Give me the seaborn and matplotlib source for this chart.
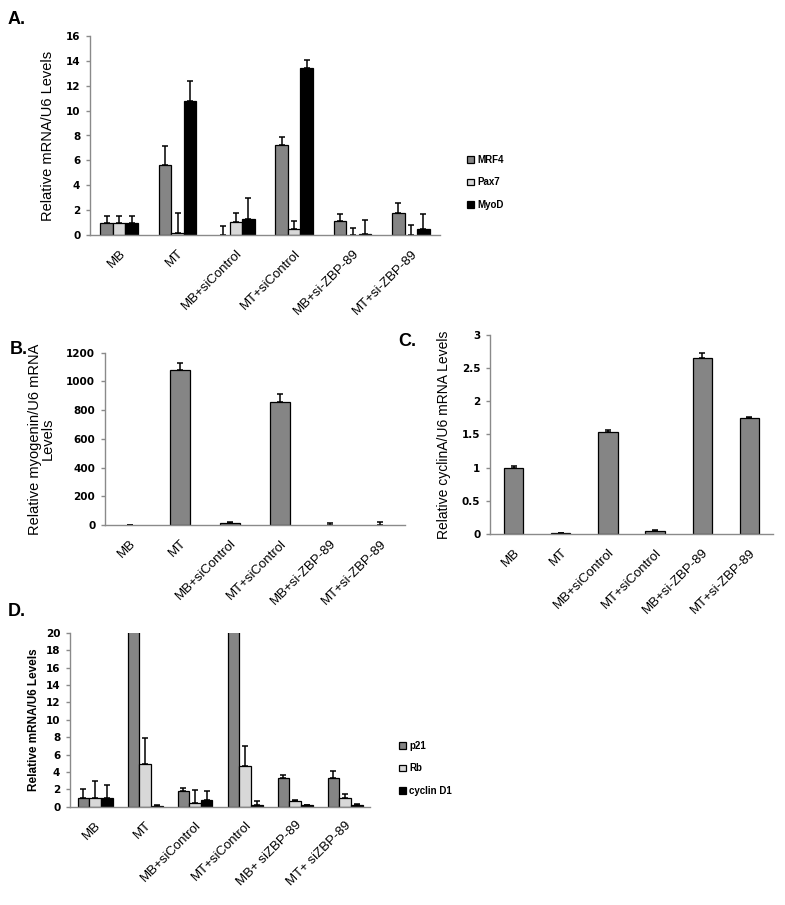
import numpy as np
import pandas as pd
import matplotlib
matplotlib.use("Agg")
import matplotlib.pyplot as plt
import seaborn as sns

# ---------------- data ----------------
cats_a = ["MB", "MT", "MB+siControl", "MT+siControl", "MB+si-ZBP-89", "MT+si-ZBP-89"]
series_a = ["MRF4", "Pax7", "MyoD"]
mrf4 = [1.0, 5.6, 0.0, 7.2, 1.15, 1.75]
mrf4_err = [0.5, 1.55, 0.7, 0.7, 0.5, 0.8]
pax7 = [1.0, 0.15, 1.05, 0.45, 0.0, 0.0]
pax7_err = [0.5, 1.6, 0.7, 0.7, 0.55, 0.8]
myod = [1.0, 10.8, 1.3, 13.4, 0.1, 0.45]
myod_err = [0.5, 1.6, 1.7, 0.7, 1.1, 1.2]

cats_b = ["MB", "MT", "MB+siControl", "MT+siControl", "MB+si-ZBP-89", "MT+si-ZBP-89"]
myogenin = [0, 1080, 15, 860, 0, 0]
myogenin_err = [0, 45, 6, 55, 12, 22]

cats_c = ["MB", "MT", "MB+siControl", "MT+siControl", "MB+si-ZBP-89", "MT+si-ZBP-89"]
cyclina = [1.0, 0.01, 1.53, 0.04, 2.65, 1.75]
cyclina_err = [0.02, 0.005, 0.035, 0.015, 0.07, 0.012]

cats_d = ["MB", "MT", "MB+siControl", "MT+siControl", "MB+ siZBP-89", "MT+ siZBP-89"]
series_d = ["p21", "Rb", "cyclin D1"]
p21 = [1.05, 25.0, 1.8, 25.0, 3.25, 3.25]
p21_err = [0.95, 0.0, 0.35, 0.0, 0.35, 0.85]
rb = [1.05, 4.95, 0.45, 4.7, 0.6, 0.95]
rb_err = [1.95, 2.95, 1.45, 2.25, 0.2, 0.5]
cycd1 = [1.05, 0.05, 0.75, 0.15, 0.15, 0.15]
cycd1_err = [1.45, 0.2, 1.05, 0.55, 0.05, 0.2]

# ---------------- style ----------------
sns.set_style("white")
plt.rcParams["font.family"] = ["Liberation Sans", "DejaVu Sans"]
plt.rcParams["text.color"] = "black"
plt.rcParams["axes.labelcolor"] = "black"
plt.rcParams["xtick.labelcolor"] = "black"
plt.rcParams["ytick.labelcolor"] = "black"

W, H = 785, 905
fig = plt.figure(figsize=(W / 100, H / 100), dpi=100)

def frac(l, t, r, b):
    return [l / W, 1 - b / H, (r - l) / W, (b - t) / H]

C_DARK = "#858585"
C_LIGHT = "#d8d8d8"
C_BLACK = "#000000"
SPINE = "#8a8a8a"


def style_axes(ax, cats, ylim, yticks, yticklabels, tickfs=7.5, catfs=9.5):
    ax.set_ylim(*ylim)
    ax.set_yticks(yticks)
    ax.set_yticklabels(yticklabels, fontsize=tickfs, fontweight="bold",
                       family="DejaVu Sans", color="black")
    ax.set_xlim(-0.5, len(cats) - 0.5)
    ax.set_xticks(range(len(cats)))
    ax.set_xticklabels(cats, rotation=45, ha="right", rotation_mode="anchor",
                       fontsize=catfs, color="black")
    ax.set_xticks(np.arange(-0.5, len(cats), 1), minor=True)
    ax.tick_params(axis="x", which="major", length=0, pad=9)
    ax.tick_params(axis="x", which="minor", length=4, color=SPINE, width=1)
    ax.tick_params(axis="y", length=3, color=SPINE, width=1, pad=4, left=True)
    for s in ["top", "right"]:
        ax.spines[s].set_visible(False)
    for s in ["left", "bottom"]:
        ax.spines[s].set_color(SPINE)
        ax.spines[s].set_linewidth(1)
    ax.set_xlabel("")


def add_errs(ax, errs_list, capsize=2.5):
    for cont, errs in zip(ax.containers, errs_list):
        xs = [p.get_x() + p.get_width() / 2 for p in cont.patches]
        hs = [p.get_height() for p in cont.patches]
        for p in cont.patches:
            if p.get_height() == 0:
                p.set_linewidth(0)
        ax.errorbar(xs, hs, yerr=[np.zeros(len(errs)), errs], fmt="none",
                    ecolor="black", elinewidth=1.1, capsize=capsize,
                    capthick=1.1, zorder=1)


# ---------------- Panel A ----------------
axA = fig.add_axes(frac(90, 36, 440, 235))
dfA = pd.DataFrame({
    "cat": cats_a * 3,
    "series": sum([[s] * len(cats_a) for s in series_a], []),
    "val": mrf4 + pax7 + myod,
})
sns.barplot(data=dfA, x="cat", y="val", hue="series", hue_order=series_a,
            palette=[C_DARK, C_LIGHT, C_BLACK], edgecolor="black", linewidth=0.9,
            width=0.65, gap=0, ax=axA, legend=True, zorder=2)
add_errs(axA, [mrf4_err, pax7_err, myod_err])
style_axes(axA, cats_a, (0, 16), np.arange(0, 17, 2), [str(v) for v in range(0, 17, 2)])
axA.set_ylabel("Relative mRNA/U6 Levels", fontsize=10.5, labelpad=8)
h, l = axA.get_legend_handles_labels()
axA.get_legend().remove()
fig.legend(h, l, loc="upper left", bbox_to_anchor=(458 / W, 1 - 146 / H),
           frameon=False, prop={"weight": "bold", "size": 7},
           handlelength=0.7, handleheight=0.7, handletextpad=0.4, labelspacing=1.3)

# ---------------- Panel B ----------------
axB = fig.add_axes(frac(105, 352.7, 405, 525))
dfB = pd.DataFrame({"cat": cats_b, "val": myogenin})
sns.barplot(data=dfB, x="cat", y="val", color=C_DARK, edgecolor="black",
            linewidth=0.9, width=0.4, ax=axB, saturation=1, zorder=2)
add_errs(axB, [myogenin_err])
style_axes(axB, cats_b, (0, 1200), np.arange(0, 1201, 200),
           [str(v) for v in range(0, 1201, 200)])
axB.set_ylabel("Relative myogenin/U6 mRNA\nLevels", fontsize=10.5, labelpad=8,
               linespacing=0.95)

# ---------------- Panel C ----------------
axC = fig.add_axes(frac(490, 334.7, 773, 534))
dfC = pd.DataFrame({"cat": cats_c, "val": cyclina})
sns.barplot(data=dfC, x="cat", y="val", color=C_DARK, edgecolor="black",
            linewidth=0.9, width=0.41, ax=axC, saturation=1, zorder=2)
add_errs(axC, [cyclina_err])
style_axes(axC, cats_c, (0, 3), np.arange(0, 3.01, 0.5),
           ["0", "0.5", "1", "1.5", "2", "2.5", "3"])
axC.set_ylabel("Relative cyclinA/U6 mRNA Levels", fontsize=10, labelpad=8)

# ---------------- Panel D ----------------
axD = fig.add_axes(frac(70, 632.7, 370, 806.7))
dfD = pd.DataFrame({
    "cat": cats_d * 3,
    "series": sum([[s] * len(cats_d) for s in series_d], []),
    "val": p21 + rb + cycd1,
})
sns.barplot(data=dfD, x="cat", y="val", hue="series", hue_order=series_d,
            palette=[C_DARK, C_LIGHT, C_BLACK], edgecolor="black", linewidth=0.9,
            width=0.7, gap=0, ax=axD, legend=True, zorder=2)
add_errs(axD, [p21_err, rb_err, cycd1_err])
style_axes(axD, cats_d, (0, 20), np.arange(0, 21, 2), [str(v) for v in range(0, 21, 2)])
axD.set_ylabel("Relative mRNA/U6 Levels", fontsize=8.5, fontweight="bold", labelpad=4)
h, l = axD.get_legend_handles_labels()
axD.get_legend().remove()
fig.legend(h, l, loc="upper left", bbox_to_anchor=(390 / W, 1 - 732 / H),
           frameon=False, prop={"weight": "bold", "size": 7},
           handlelength=0.7, handleheight=0.7, handletextpad=0.4, labelspacing=1.3)

# ---------------- panel letters ----------------
for txt, x, y in [("A.", 8, 20), ("B.", 10, 350), ("C.", 398, 342), ("D.", 8, 612)]:
    fig.text(x / W, 1 - y / H, txt, fontsize=13, fontweight="bold", va="center",
             color="black")

fig.savefig("out.png", dpi=100)
